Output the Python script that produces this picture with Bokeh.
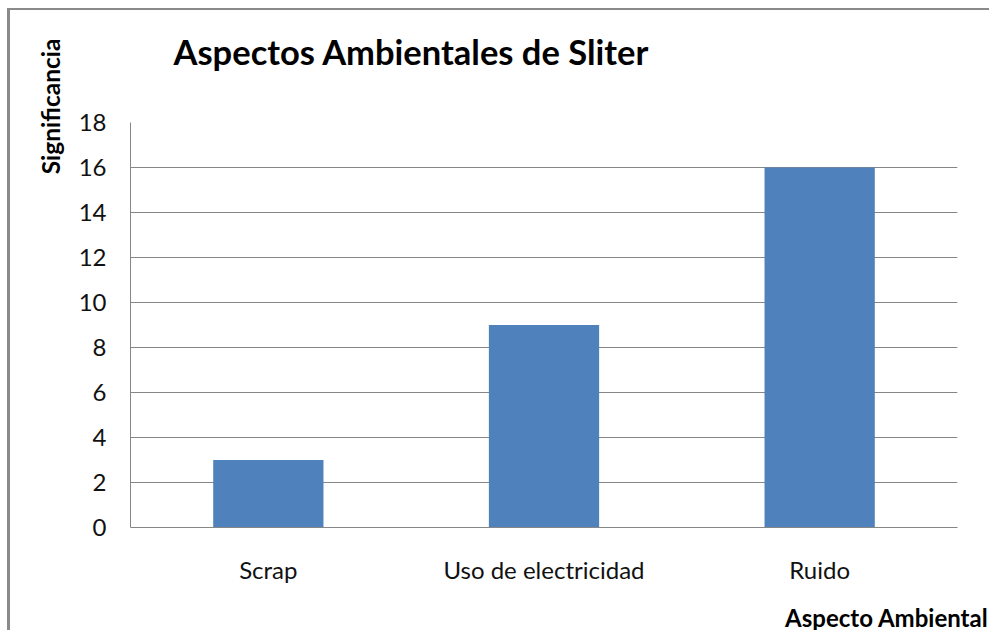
from bokeh.plotting import figure
from bokeh.models import Range1d, FixedTicker, Title, ColumnDataSource
from bokeh.embed import file_html
from bokeh.resources import INLINE

categories = ["Scrap", "Uso de electricidad", "Ruido"]
values = [3, 9, 16]
y_ticks = [0, 2, 4, 6, 8, 10, 12, 14, 16, 18]
title_text = "Aspectos Ambientales de Sliter"
y_label = "Significancia"
x_label = "Aspecto Ambiental"

FONT = "Lato"
GRID = "#868686"

src = ColumnDataSource(dict(cat=categories, val=values))

p = figure(x_range=categories, y_range=Range1d(0, 18), width=982, height=622,
           output_backend="svg", toolbar_location=None,
           min_border_left=120, min_border_top=112, min_border_right=35, min_border_bottom=105)
p.styles = {"border-left": "3px solid #8a8a8a", "border-top": "2px solid #8a8a8a",
            "margin-left": "7px", "margin-top": "8px"}
p.x_range.range_padding = 0
p.outline_line_color = None
p.background_fill_color = "white"
p.border_fill_color = "white"

p.vbar(x="cat", top="val", width=0.4, source=src, fill_color="#4F81BD", line_color=None)

p.yaxis.ticker = FixedTicker(ticks=y_ticks)
p.ygrid.ticker = FixedTicker(ticks=y_ticks)
p.ygrid.grid_line_color = GRID
p.xgrid.grid_line_color = None
for ax in (p.xaxis, p.yaxis):
    ax.axis_line_color = GRID
    ax.major_tick_line_color = None
    ax.minor_tick_line_color = None
    ax.major_label_text_font = FONT
    ax.major_label_text_font_size = "24px"
    ax.major_label_text_color = "#111111"
p.yaxis.major_label_standoff = 18
p.xaxis.major_label_standoff = 21

p.title.text = title_text
p.title.align = "left"
p.title.offset = 43
p.title.standoff = 0
p.title.text_font = FONT
p.title.text_font_style = "bold"
p.title.text_font_size = "34.5px"
p.title.text_color = "black"
# spacer between the title and the plot area
p.add_layout(Title(text=" ", text_font_size="16px", standoff=32), "above")

p.add_layout(Title(text=y_label, align="right", offset=-84, standoff=22,
                   text_font=FONT, text_font_style="bold", text_font_size="24.5px",
                   text_color="black"), "left")
p.add_layout(Title(text=" ", text_font_size="8px", standoff=3), "below")
p.add_layout(Title(text=x_label, align="right", offset=-31, standoff=0,
                   text_font=FONT, text_font_style="bold", text_font_size="24px",
                   text_color="black"), "below")

open("out.html", "w").write(file_html(p, INLINE))
